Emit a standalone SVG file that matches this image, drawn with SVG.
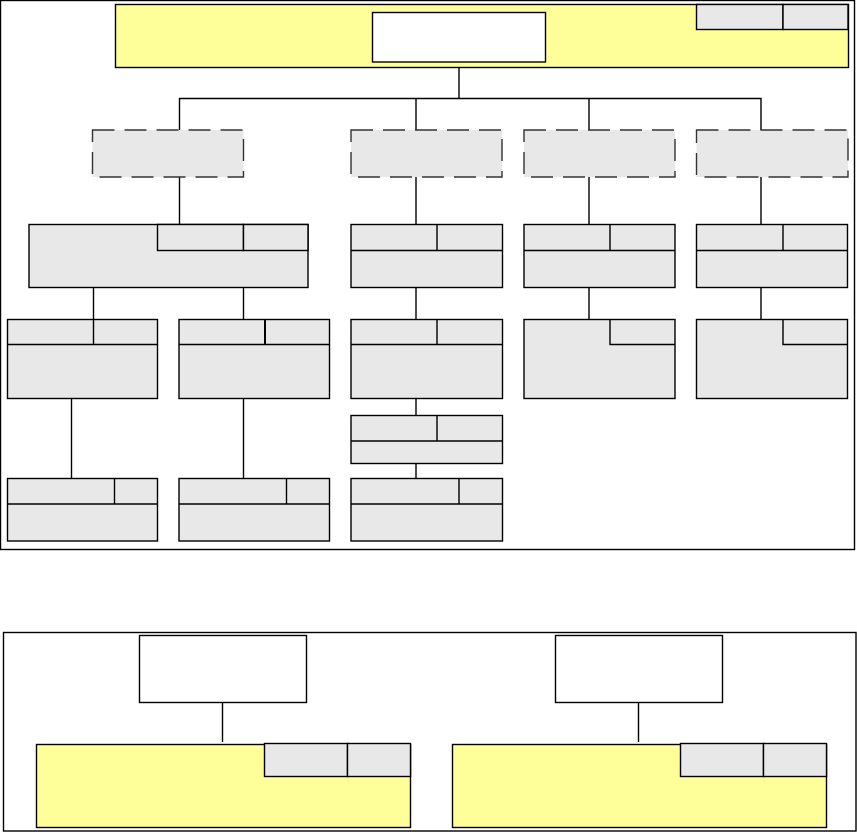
<svg xmlns="http://www.w3.org/2000/svg" width="857" height="832" viewBox="0 0 857 832">
<style>
rect,line,path{stroke:#000;stroke-width:1.4}
.frame{fill:none}
.y{fill:#FFFF99}
.w{fill:#FFFFFF}
.g{fill:#E8E8E8}
.d{fill:#E8E8E8;stroke:#333;stroke-dasharray:22 10}
.c line,.c path{fill:none}
</style>
<rect class="frame" x="0.5" y="0.5" width="854" height="549"/>
<rect class="frame" x="3.5" y="632.5" width="852.5" height="198.5"/>
<g class="c" id="connectors">
<line x1="459" y1="67" x2="459" y2="98.5"/>
<path d="M179.5 130 V98.5 H761 V130"/>
<line x1="416" y1="98.5" x2="416" y2="130"/>
<line x1="589" y1="98.5" x2="589" y2="130"/>
<line x1="179.5" y1="177" x2="179.5" y2="224.5"/>
<line x1="416" y1="177" x2="416" y2="224.5"/>
<line x1="589" y1="177" x2="589" y2="224.5"/>
<line x1="761" y1="177" x2="761" y2="224.5"/>
<line x1="93.5" y1="287.5" x2="93.5" y2="319.5"/>
<line x1="243.5" y1="287.5" x2="243.5" y2="319.5"/>
<line x1="416" y1="287.5" x2="416" y2="319.5"/>
<line x1="589" y1="287.5" x2="589" y2="319.5"/>
<line x1="761" y1="287.5" x2="761" y2="319.5"/>
<line x1="71.5" y1="398.5" x2="71.5" y2="478.5"/>
<line x1="243.5" y1="398.5" x2="243.5" y2="478.5"/>
<line x1="416" y1="398.5" x2="416" y2="415.5"/>
<line x1="416" y1="463.5" x2="416" y2="478.5"/>
<line x1="222.5" y1="702.5" x2="222.5" y2="742"/>
<line x1="638.5" y1="702.5" x2="638.5" y2="742"/>
</g>
<g id="top">
<rect class="y" x="115.5" y="4.5" width="733" height="63"/>
<rect class="w" x="372.5" y="12.5" width="173" height="49.5"/>
<rect class="g" x="696.5" y="4.5" width="86.5" height="25"/>
<rect class="g" x="783" y="4.5" width="65" height="25"/>
</g>
<g id="d1"><rect class="d" x="92.5" y="130" width="151" height="47"/></g>
<g id="d2"><rect class="d" x="351" y="130" width="151" height="47"/></g>
<g id="d3"><rect class="d" x="524" y="130" width="151" height="47"/></g>
<g id="d4"><rect class="d" x="696.5" y="130" width="151.5" height="47"/></g>
<g id="n3a">
<rect class="g" x="29" y="224.5" width="279" height="63"/>
<rect class="g" x="157.5" y="224.5" width="86" height="26"/>
<rect class="g" x="243.5" y="224.5" width="64.5" height="26"/>
</g>
<g id="n3b">
<rect class="g" x="351" y="224.5" width="151.5" height="63"/>
<line x1="351" y1="250.5" x2="502.5" y2="250.5"/>
<line x1="437" y1="224.5" x2="437" y2="250.5"/>
</g>
<g id="n3c">
<rect class="g" x="524" y="224.5" width="151" height="63"/>
<line x1="524" y1="250.5" x2="675" y2="250.5"/>
<line x1="610" y1="224.5" x2="610" y2="250.5"/>
</g>
<g id="n3d">
<rect class="g" x="696.5" y="224.5" width="151" height="63"/>
<line x1="696.5" y1="250.5" x2="847.5" y2="250.5"/>
<line x1="783" y1="224.5" x2="783" y2="250.5"/>
</g>
<g id="n4a">
<rect class="g" x="7.5" y="319.5" width="150" height="79"/>
<line x1="7.5" y1="344.5" x2="157.5" y2="344.5"/>
<line x1="93.5" y1="319.5" x2="93.5" y2="344.5"/>
</g>
<g id="n4b">
<rect class="g" x="179" y="319.5" width="150.5" height="79"/>
<line x1="179" y1="344.5" x2="329.5" y2="344.5"/>
<line x1="265" y1="319.5" x2="265" y2="344.5" style="stroke-width:2"/>
</g>
<g id="n4c">
<rect class="g" x="351" y="319.5" width="151.5" height="79"/>
<line x1="351" y1="344.5" x2="502.5" y2="344.5"/>
<line x1="437" y1="319.5" x2="437" y2="344.5"/>
</g>
<g id="n4d">
<rect class="g" x="524" y="319.5" width="151" height="79"/>
<path d="M610 319.5 V344.5 H675" fill="none"/>
</g>
<g id="n4e">
<rect class="g" x="696.5" y="319.5" width="151" height="79"/>
<path d="M783 319.5 V344.5 H847.5" fill="none"/>
</g>
<g id="n5c">
<rect class="g" x="351" y="415.5" width="151.5" height="48"/>
<line x1="351" y1="441" x2="502.5" y2="441"/>
<line x1="437" y1="415.5" x2="437" y2="441"/>
</g>
<g id="n6a">
<rect class="g" x="7.5" y="478.5" width="150" height="62.5"/>
<line x1="7.5" y1="504" x2="157.5" y2="504"/>
<line x1="114.5" y1="478.5" x2="114.5" y2="504"/>
</g>
<g id="n6b">
<rect class="g" x="179" y="478.5" width="150.5" height="62.5"/>
<line x1="179" y1="504" x2="329.5" y2="504"/>
<line x1="286.5" y1="478.5" x2="286.5" y2="504"/>
</g>
<g id="n6c">
<rect class="g" x="351" y="478.5" width="151.5" height="62.5"/>
<line x1="351" y1="504" x2="502.5" y2="504"/>
<line x1="459" y1="478.5" x2="459" y2="504"/>
</g>
<g id="b1w"><rect class="w" x="139.5" y="635.5" width="167" height="67"/></g>
<g id="b2w"><rect class="w" x="555.5" y="635.5" width="167" height="67"/></g>
<g id="b1y">
<rect class="y" x="36.5" y="744.5" width="374" height="83"/>
<rect class="g" x="264.5" y="743.5" width="83" height="33"/>
<rect class="g" x="347.5" y="743.5" width="63" height="33"/>
</g>
<g id="b2y">
<rect class="y" x="452.5" y="744.5" width="374" height="83"/>
<rect class="g" x="680.5" y="743.5" width="83" height="33"/>
<rect class="g" x="763.5" y="743.5" width="63" height="33"/>
</g>
</svg>
